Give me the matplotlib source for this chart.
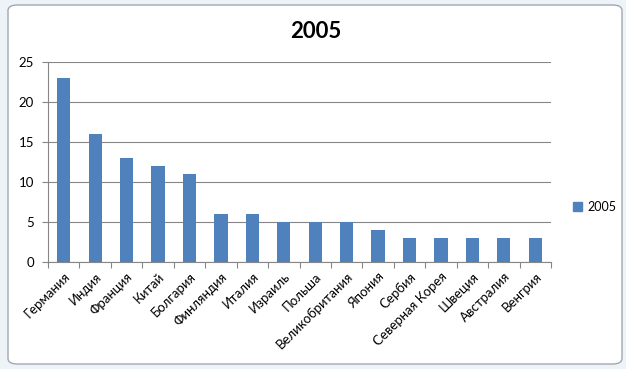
import matplotlib
matplotlib.use("Agg")
import matplotlib.pyplot as plt
from matplotlib.patches import FancyBboxPatch, Rectangle

categories = ["Германия", "Индия", "Франция", "Китай", "Болгария", "Финляндия",
              "Италия", "Израиль", "Польша", "Великобритания", "Япония", "Сербия",
              "Северная Корея", "Швеция", "Австралия", "Венгрия"]
values_2005 = [23, 16, 13, 12, 11, 6, 6, 5, 5, 5, 4, 3, 3, 3, 3, 3]
yticks = [0, 5, 10, 15, 20, 25]
series_name = "2005"

plt.rcParams['font.family'] = ['Lato', 'DejaVu Sans']
W, H = 626, 369
fig = plt.figure(figsize=(W / 100, H / 100), dpi=100)
fig.patch.set_facecolor('#eef3f8')

# chart area frame
frame = FancyBboxPatch((8 / W, 5 / H), 614 / W, 359 / H,
                       boxstyle="round,pad=0,rounding_size=0.015",
                       transform=fig.transFigure, facecolor='white',
                       edgecolor='#a0a8b4', linewidth=1.0, zorder=-5)
fig.patches.append(frame)

ax = fig.add_axes([48 / W, 1 - 262 / H, (551 - 48) / W, (262 - 62) / H])
ax.set_zorder(2)
ax.set_facecolor('none')
x = list(range(len(categories)))
bar_color = '#4f81bd'
ax.bar(x, values_2005, width=0.42, color=bar_color, zorder=3, label=series_name)
ax.set_xlim(-0.5, len(categories) - 0.5)
ax.set_ylim(0, 25)
ax.set_yticks(yticks)
ax.set_yticklabels([str(v) for v in yticks], fontsize=9.5)
ax.yaxis.grid(True, color='#868686', linewidth=0.8, zorder=0)
ax.set_axisbelow(True)
ax.set_xticks([i - 0.5 for i in range(len(categories) + 1)], minor=False)
ax.set_xticklabels([''] * (len(categories) + 1))
ax.set_xticks(x, minor=True)
ax.set_xticklabels(categories, minor=True, rotation=45, ha='right',
                   rotation_mode='anchor', fontsize=9.5)
ax.tick_params(axis='x', which='minor', length=0, pad=6)
ax.tick_params(axis='x', which='major', length=4, color='#868686', direction='out')
ax.tick_params(axis='y', length=4, color='#868686', direction='out', pad=6)
for s in ['top', 'right']:
    ax.spines[s].set_visible(False)
for s in ['left', 'bottom']:
    ax.spines[s].set_color('#868686')
    ax.spines[s].set_linewidth(0.8)

fig.text(316 / W, 1 - 32 / H, "2005", ha='center', va='center',
         fontsize=16, fontweight='bold')

leg = fig.legend(handles=[Rectangle((0, 0), 1, 1, color=bar_color)],
                 labels=[series_name], loc='center left',
                 bbox_to_anchor=(562 / W, 1 - 207 / H), frameon=False,
                 fontsize=9, handlelength=0.7, handleheight=0.7,
                 handletextpad=0.4)

fig.savefig("out.png", dpi=100, facecolor=fig.get_facecolor())
